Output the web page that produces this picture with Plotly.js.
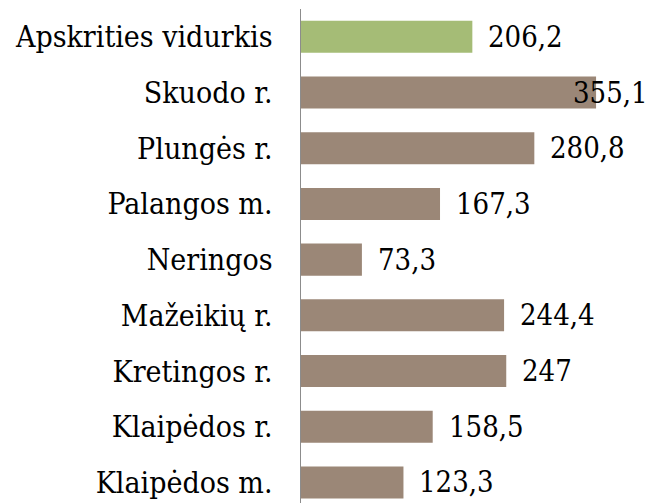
<!DOCTYPE html>
<html>
<head>
<meta charset="utf-8">
<script src="https://cdn.plot.ly/plotly-3.0.1.min.js"></script>
<style>html,body{margin:0;padding:0;background:#fff}#chart{width:656px;height:503px}</style>
</head>
<body>
<div id="chart"></div>
<script>
// Data (bottom to top)
const categories = ["Klaipėdos m.", "Klaipėdos r.", "Kretingos r.", "Mažeikių r.", "Neringos", "Palangos m.", "Plungės r.", "Skuodo r.", "Apskrities vidurkis"];
const values = [123.3, 158.5, 247, 244.4, 73.3, 167.3, 280.8, 355.1, 206.2];
const highlight = "Apskrities vidurkis";

const BROWN = "#9B8777";
const GREEN = "#A5BC76";
const FONT = "DejaVu Serif Condensed, DejaVu Serif, serif";
const FS_LABEL = 29;
const FS_TICK = 30;
const XMAX = 420;

const colors = categories.map(c => c === highlight ? GREEN : BROWN);
const fmt = v => String(v).replace('.', ',');

const annotations = values.map((v, i) => {
  const overflow = v > 315;
  return overflow ? {
    xref: 'paper', yref: 'y', x: 1, y: categories[i], xanchor: 'right', yanchor: 'middle',
    text: fmt(v), showarrow: false, font: {family: FONT, size: FS_LABEL, color: '#000'}
  } : {
    xref: 'x', yref: 'y', x: v, y: categories[i], xanchor: 'left', yanchor: 'middle', xshift: 14,
    text: fmt(v), showarrow: false, font: {family: FONT, size: FS_LABEL, color: '#000'}
  };
});

const trace = {
  type: 'bar', orientation: 'h',
  x: values, y: categories,
  marker: {color: colors},
  hoverinfo: 'none'
};

const layout = {
  width: 656, height: 503,
  margin: {l: 301, r: 6, t: 9, b: 0},
  paper_bgcolor: '#fff', plot_bgcolor: '#fff',
  showlegend: false,
  bargap: 0.425,
  xaxis: {range: [0, XMAX], visible: false, showgrid: false, zeroline: false},
  yaxis: {
    type: 'category', range: [-0.37, 8.5],
    showline: true, linecolor: '#8c8c8c', linewidth: 1.5,
    ticks: '', ticklabelstandoff: 21, showgrid: false, zeroline: false,
    tickfont: {family: FONT, size: FS_TICK, color: '#000'}
  },
  annotations: annotations
};

Plotly.newPlot('chart', [trace], layout, {staticPlot: true, displayModeBar: false});
</script>
</body>
</html>
